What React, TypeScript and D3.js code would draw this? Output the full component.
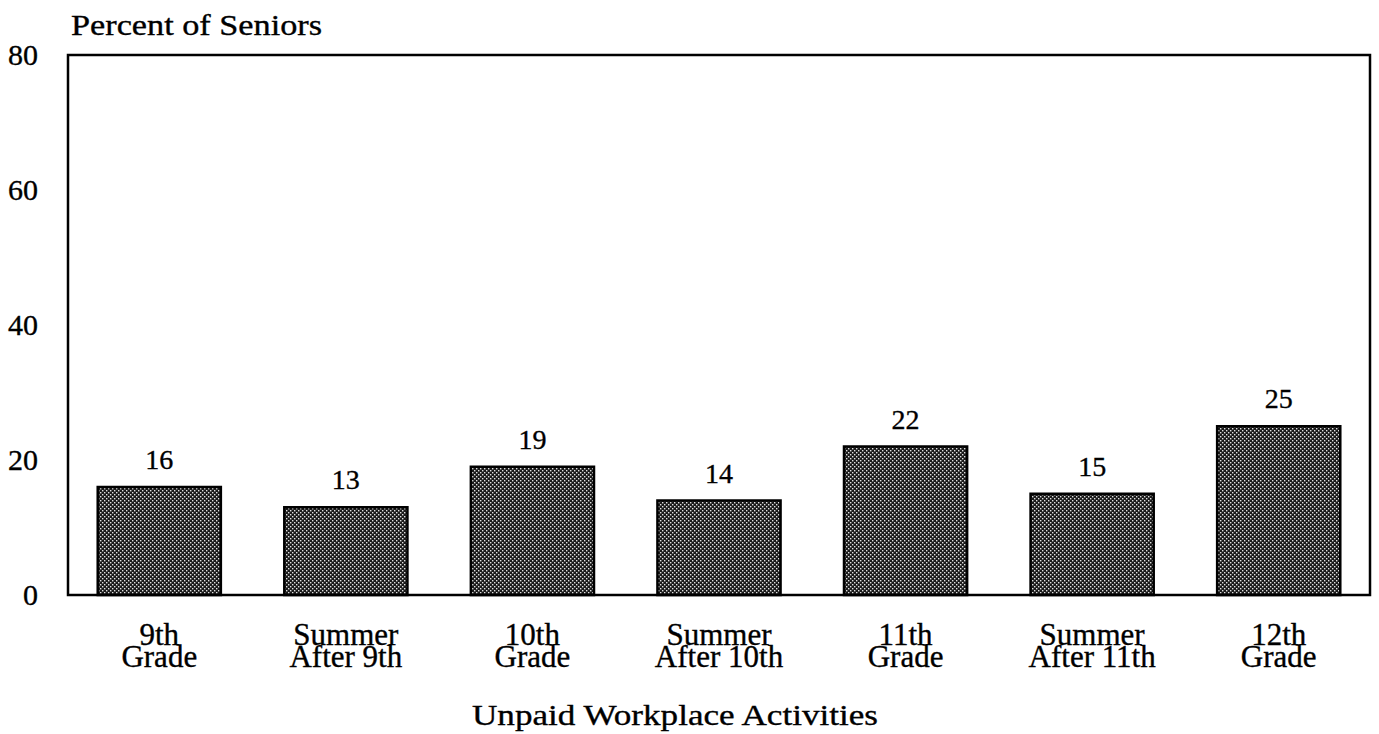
import React from "react";
import * as d3 from "d3";

const categoriesLine1 = ["9th", "Summer", "10th", "Summer", "11th", "Summer", "12th"];
const categoriesLine2 = ["Grade", "After 9th", "Grade", "After 10th", "Grade", "After 11th", "Grade"];
const values = [16, 13, 19, 14, 22, 15, 25];
const yTicks = [0, 20, 40, 60, 80];
const yAxisTitle = "Percent of Seniors";
const xAxisTitle = "Unpaid Workplace Activities";

const W = 1379;
const H = 734;
const frame = { left: 68, right: 1370, top: 55, bottom: 595 };

export default function App() {
  const ids = categoriesLine1.map((_, i) => String(i));
  const x = d3
    .scaleBand<string>()
    .domain(ids)
    .range([66, 1372])
    .paddingInner(0.34)
    .paddingOuter(0.17);
  const y = d3.scaleLinear().domain([0, 80]).range([frame.bottom, frame.top]);
  const serif = "'Liberation Serif', 'Times New Roman', serif";
  const textStyle = { stroke: "#000", strokeWidth: 0.35 };

  return (
    <svg
      width={W}
      height={H}
      style={{ position: "absolute", left: 0, top: 0, background: "#fff" }}
    >
      <defs>
        <pattern id="dots" width="4" height="4" patternUnits="userSpaceOnUse">
          <rect width="4" height="4" fill="#1a1a1a" />
          <rect x="0" y="0" width="1.4" height="1.4" fill="#e0e0e0" />
          <rect x="2" y="2" width="1.4" height="1.4" fill="#e0e0e0" />
        </pattern>
      </defs>
      <rect x={0} y={0} width={W} height={H} fill="#fff" />

      {/* y axis title */}
      <text
        x={71}
        y={35}
        fontFamily={serif}
        fontSize={30}
        textLength={251}
        lengthAdjust="spacingAndGlyphs"
        fill="#000"
        style={textStyle}
      >
        {yAxisTitle}
      </text>

      {/* y ticks */}
      {yTicks.map((t) => (
        <text
          key={t}
          x={38}
          y={y(t)}
          dy="0.34em"
          textAnchor="end"
          fontFamily={serif}
          fontSize={30}
          fill="#000"
          style={textStyle}
        >
          {t}
        </text>
      ))}

      {/* bars */}
      {values.map((v, i) => {
        const cx = x(ids[i])! + x.bandwidth() / 2;
        return (
          <g key={i}>
            <rect
              x={x(ids[i])!}
              y={y(v)}
              width={x.bandwidth()}
              height={y(0) - y(v)}
              fill="url(#dots)"
              stroke="#000"
              strokeWidth={2.5}
            />
            <text
              x={cx}
              y={y(v) - 18}
              textAnchor="middle"
              fontFamily={serif}
              fontSize={28}
              fill="#000"
              style={textStyle}
            >
              {v}
            </text>
            <text
              textAnchor="middle"
              fontFamily={serif}
              fontSize={31}
              fill="#000"
              style={textStyle}
            >
              <tspan x={cx} y={645}>
                {categoriesLine1[i]}
              </tspan>
              <tspan x={cx} y={667}>
                {categoriesLine2[i]}
              </tspan>
            </text>
          </g>
        );
      })}

      {/* frame */}
      <rect
        x={frame.left}
        y={frame.top}
        width={frame.right - frame.left}
        height={frame.bottom - frame.top}
        fill="none"
        stroke="#000"
        strokeWidth={2.5}
      />

      {/* x axis title */}
      <text
        x={675}
        y={725}
        textAnchor="middle"
        fontFamily={serif}
        fontSize={30}
        textLength={406}
        lengthAdjust="spacingAndGlyphs"
        fill="#000"
        style={textStyle}
      >
        {xAxisTitle}
      </text>
    </svg>
  );
}
